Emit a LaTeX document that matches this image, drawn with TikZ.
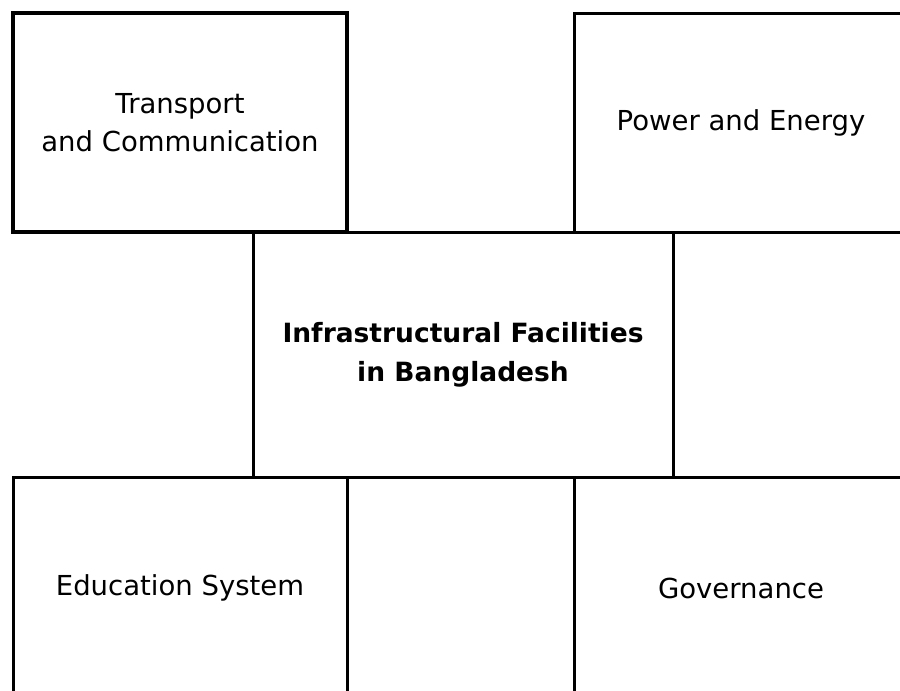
\documentclass[tikz,border=0pt]{standalone}
\usepackage{fontspec}
\setmainfont{DejaVu Sans}
\begin{document}
\begin{tikzpicture}[x=1pt,y=-1pt,
  box/.style={draw=black, line width=3pt, inner sep=0pt, outer sep=0pt, align=center,
    font=\fontsize{27.5}{38}\selectfont},
  heavybox/.style={box, line width=3.6pt},
  centerbox/.style={box, font=\fontsize{26.5}{39}\selectfont\bfseries},
  rule/.style={draw=black, line width=3pt}]
\useasboundingbox (0,0) rectangle (900,691);
\clip (0,0) rectangle (900,691);
\node[heavybox, minimum width=334pt, minimum height=219pt] (tl) at (180,122.5) {Transport\\and Communication};
\node[box, minimum width=334pt, minimum height=219pt] (tr) at (741,122.5) {Power and Energy};
\node[centerbox, minimum width=420pt, minimum height=245pt] (mid) at (463,354.5) {Infrastructural Facilities\\in Bangladesh};
\node[box, minimum width=334pt, minimum height=222pt] (bl) at (180,588) {Education System};
\node[box, minimum width=334pt, minimum height=222pt] (br) at (741,588) {Governance};
\coordinate (r1) at (905,232);
\coordinate (r2) at (905,477);
\draw[rule] (tl.south west) -- (r1);
\draw[rule] (bl.north west) -- (r2);
\end{tikzpicture}
\end{document}
